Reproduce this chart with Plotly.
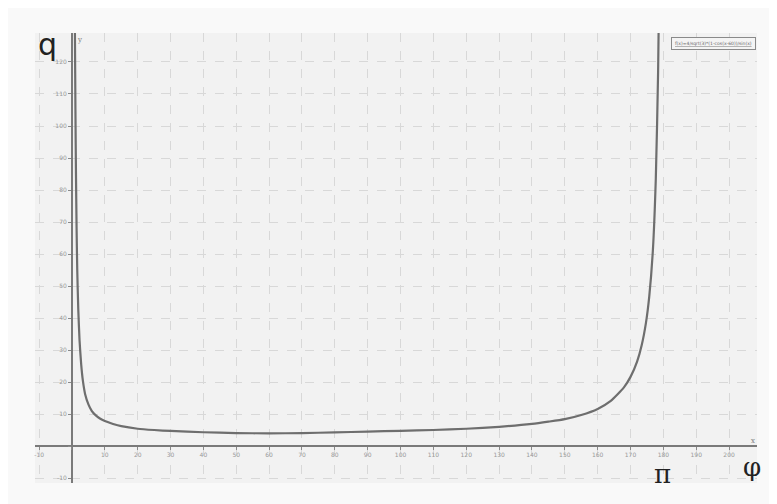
import plotly.graph_objects as go

# Values (phi in degrees, q)
phi = [0.8, 0.9, 1.05, 1.2, 1.4, 1.6, 1.9, 2.3, 2.8, 3.3, 4.0, 5.0, 6.0, 7.0, 8.5,
       10, 12.5, 15, 20, 25, 30, 40, 50, 60, 70, 80, 90, 100, 110, 120, 130, 140, 145, 150,
       155, 160, 164, 168, 170, 172, 173.4, 174.7, 175.7, 176.8, 177.7, 178.4, 178.8]
q = [143, 128, 105, 86, 68, 55, 43, 33, 25.5, 20.5, 16.2, 13.0, 11.0, 9.8, 8.6,
     7.8, 6.9, 6.2, 5.4, 5.0, 4.7, 4.3, 4.05, 3.95, 4.05, 4.25, 4.5, 4.75, 5.0, 5.4, 6.0, 6.9, 7.6, 8.4,
     9.7, 11.6, 14.1, 18.3, 21.6, 26.4, 31.5, 38.5, 46.7, 61, 83.5, 117, 150]

x_ticks = [-10, 0, 10, 20, 30, 40, 50, 60, 70, 80, 90, 100, 110, 120, 130, 140, 150,
           160, 170, 180, 190, 200]
x_labels = ["" if v == 0 else str(v) for v in x_ticks]
y_ticks = [-10, 0, 10, 20, 30, 40, 50, 60, 70, 80, 90, 100, 110, 120]
y_labels = ["" if v == 0 else str(v) for v in y_ticks]

legend_text = "f(x)=4/sqrt(3)*(1-cos(x-60))/sin(x)"

x_range = [-11.26, 208.5]
y_range = [-11.56, 129.06]
x_axis_pos = (0 - y_range[0]) / (y_range[1] - y_range[0])
y_axis_pos = (0 - x_range[0]) / (x_range[1] - x_range[0])

fig = go.Figure()
fig.add_trace(go.Scatter(x=phi, y=q, mode="lines",
                         line=dict(color="#6e6e6e", width=2.2, shape="spline", smoothing=0.6),
                         showlegend=False, cliponaxis=True))

axis_common = dict(showline=True, linecolor="#7a7a7a", linewidth=2,
                   ticks="outside", ticklen=3, tickcolor="#8a8a8a",
                   tickfont=dict(size=6, color="#999999", family="DejaVu Sans"),
                   showgrid=True, gridcolor="#d8d8d8", griddash="dash", gridwidth=1,
                   zeroline=False, anchor="free", fixedrange=True)

fig.update_layout(
    width=769, height=496,
    margin=dict(l=27, r=20, t=25, b=21),
    paper_bgcolor="#f9f9f9", plot_bgcolor="#f2f2f2",
    xaxis=dict(range=x_range, tickvals=x_ticks, ticktext=x_labels,
               position=x_axis_pos, **axis_common),
    yaxis=dict(range=y_range, tickvals=y_ticks, ticktext=y_labels,
               position=y_axis_pos, **axis_common),
    annotations=[
        dict(x=-7.6, y=125.5, xref="x", yref="y", text="q", showarrow=False,
             font=dict(size=30, color="#222", family="DejaVu Sans")),
        dict(x=179.6, y=-8.6, xref="x", yref="y", text="π", showarrow=False,
             font=dict(size=26, color="#222", family="DejaVu Serif")),
        dict(x=207.0, y=-6.5, xref="x", yref="y", text="φ", showarrow=False,
             font=dict(size=26, color="#222", family="DejaVu Serif")),
        dict(x=2.2, y=127, xref="x", yref="y", text="y", showarrow=False,
             font=dict(size=7, color="#777", family="DejaVu Serif")),
        dict(x=207.2, y=1.5, xref="x", yref="y", text="x", showarrow=False,
             font=dict(size=7, color="#777", family="DejaVu Serif")),
        dict(x=195.2, y=125.9, xref="x", yref="y", text="<u>" + legend_text + "</u>",
             showarrow=False, bordercolor="#8a8a8a", borderwidth=1, borderpad=3,
             bgcolor="#f4f4f4",
             font=dict(size=4.5, color="#666", family="DejaVu Sans")),
    ],
)

fig.write_html("out.html")
